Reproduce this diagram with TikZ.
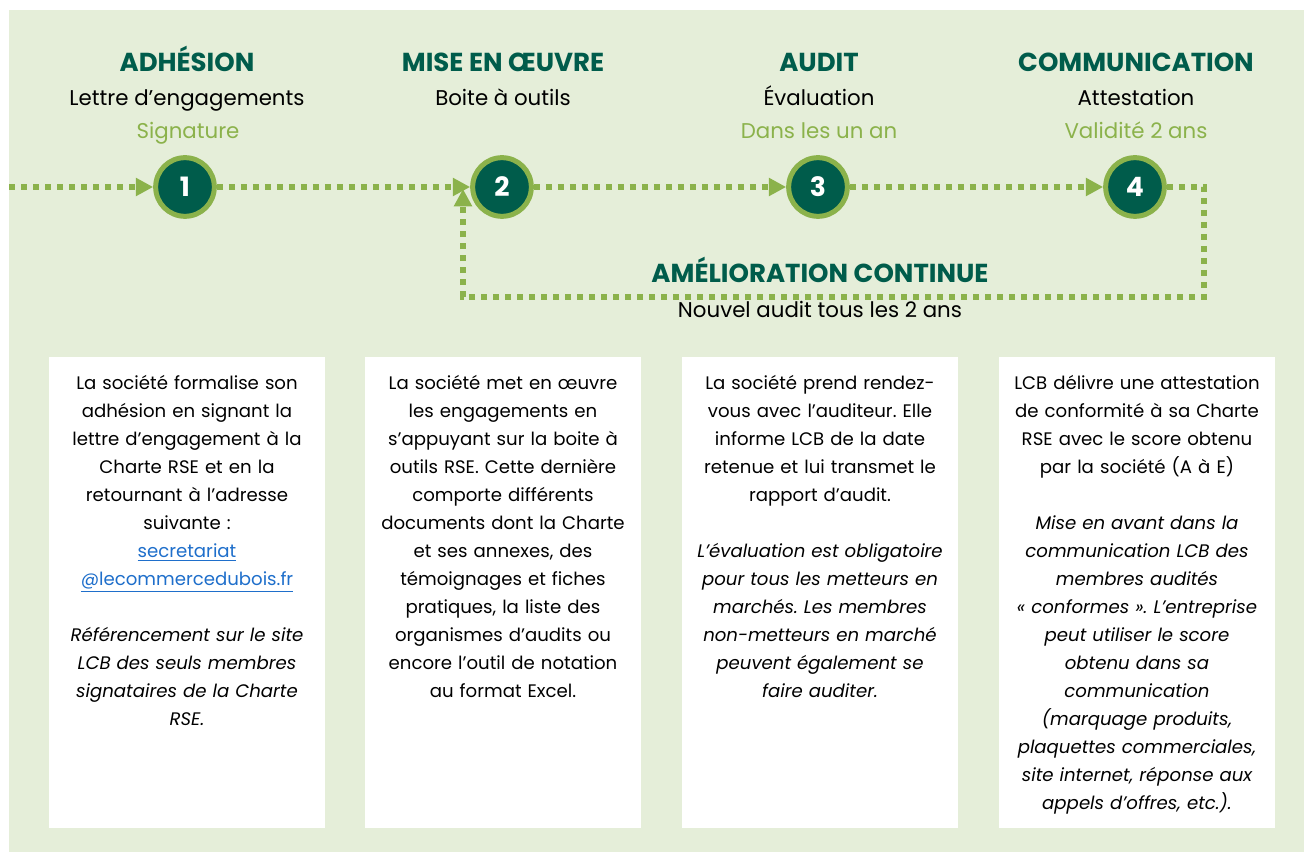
\documentclass[tikz,border=0pt]{standalone}
\usepackage{fontspec}
\setmainfont{Poppins}
\usetikzlibrary{arrows.meta}
\definecolor{darkgreen}{HTML}{005C4B}
\definecolor{leafgreen}{HTML}{8BB24B}
\definecolor{paleground}{HTML}{E5EED9}
\definecolor{linkblue}{HTML}{1F6FCB}
\frenchspacing
\begin{document}
\begin{tikzpicture}[x=0.75pt, y=-0.75pt,
    stepdot/.style={circle, fill=darkgreen, draw=leafgreen, line width=3.75pt, minimum size=44pt, inner sep=0pt, text=white, font=\bfseries\fontsize{20}{20}\selectfont},
    flow/.style={leafgreen, line width=4.5pt, dash pattern=on 4.5pt off 4.5pt, -{Triangle[length=13pt,width=13pt]}},
    steptitle/.style={anchor=base, text=darkgreen, font=\bfseries\fontsize{19.5}{22}\selectfont},
    stepsub/.style={anchor=base, text=black, font=\fontsize{16}{18}\selectfont},
    stepnote/.style={anchor=base, text=leafgreen, font=\fontsize{16}{18}\selectfont},
    card/.style={fill=white, minimum width=207pt, minimum height=353.25pt, inner sep=0pt},
    cardtext/.style={anchor=north, inner sep=0pt, text width=205pt, align=center, font=\fontsize{13.6}{21}\selectfont}]
  \useasboundingbox (0,0) rectangle (1304,852);
  \fill[paleground] (9,10) rectangle (1304,852);

  % headings
  \node[steptitle] (t1) at (187,72) {ADHÉSION};
  \node[stepsub] (s1) at (187,106) {Lettre d’engagements};
  \node[stepnote] (m1) at (188,139) {Signature};
  \node[steptitle] (t2) at (503,72) {MISE EN ŒUVRE};
  \node[stepsub] (s2) at (503,106) {Boite à outils};
  \node[steptitle] (t3) at (819,72) {AUDIT};
  \node[stepsub] (s3) at (819,106) {Évaluation};
  \node[stepnote] (m3) at (819,139) {Dans les un an};
  \node[steptitle] (t4) at (1136,72) {COMMUNICATION};
  \node[stepsub] (s4) at (1136,106) {Attestation};
  \node[stepnote] (m4) at (1136,139) {Validité 2 ans};

  % steps
  \node[stepdot] (n1) at (185,187) {1};
  \node[stepdot] (n2) at (502,187) {2};
  \node[stepdot] (n3) at (818,187) {3};
  \node[stepdot] (n4) at (1135,187) {4};
  \coordinate (entry) at (9,187);
  \coordinate (turn) at (1204,297);
  \coordinate (loopend) at (463,189);
  \draw[flow] (entry) -- (n1);
  \draw[flow] (n1) -- (n2);
  \draw[flow] (n2) -- (n3);
  \draw[flow] (n3) -- (n4);
  \draw[flow] (n4.east) -| (turn) -| (loopend);
  \node[steptitle] (loop) at (820,283) {AMÉLIORATION CONTINUE};
  \node[stepsub] (loopsub) at (820,318) {Nouvel audit tous les 2 ans};

  % cards
  \node[card] (box1) at (187,592.5) {};
  \node[card] (box2) at (503,592.5) {};
  \node[card] (box3) at (820,592.5) {};
  \node[card] (box4) at (1137,592.5) {};
  \node[cardtext] (txt1) at ([yshift=-10pt]box1.north) {\strut La société formalise son\\adhésion en signant la\\lettre d’engagement à la\\Charte RSE et en la\\retournant à l’adresse\\suivante :\\
    \textcolor{linkblue}{\underline{secretariat}}\\\textcolor{linkblue}{\underline{@lecommercedubois.fr}}\\[21pt]
    \itshape Référencement sur le site\\LCB des seuls membres\\signataires de la Charte\\RSE.};
  \node[cardtext] (txt2) at ([yshift=-10pt]box2.north) {\strut La société met en œuvre\\les engagements en\\s’appuyant sur la boite à\\outils RSE. Cette dernière\\comporte différents\\documents dont la Charte\\et ses annexes, des\\témoignages et fiches\\pratiques, la liste des\\organismes d’audits ou\\encore l’outil de notation\\au format Excel.};
  \node[cardtext] (txt3) at ([yshift=-10pt]box3.north) {\strut La société prend rendez-\\vous avec l’auditeur. Elle\\informe LCB de la date\\retenue et lui transmet le\\rapport d’audit.\\[21pt]
    \itshape L’évaluation est obligatoire\\pour tous les metteurs en\\marchés. Les membres\\non-metteurs en marché\\peuvent également se\\faire auditer.};
  \node[cardtext] (txt4) at ([yshift=-10pt]box4.north) {\strut LCB délivre une attestation\\de conformité à sa Charte\\RSE avec le score obtenu\\par la société (A à E)\\[21pt]
    \itshape Mise en avant dans la\\communication LCB des\\membres audités\\« conformes ». L’entreprise\\peut utiliser le score\\obtenu dans sa\\communication\\(marquage produits,\\plaquettes commerciales,\\site internet, réponse aux\\appels d’offres, etc.).};
\end{tikzpicture}
\end{document}
